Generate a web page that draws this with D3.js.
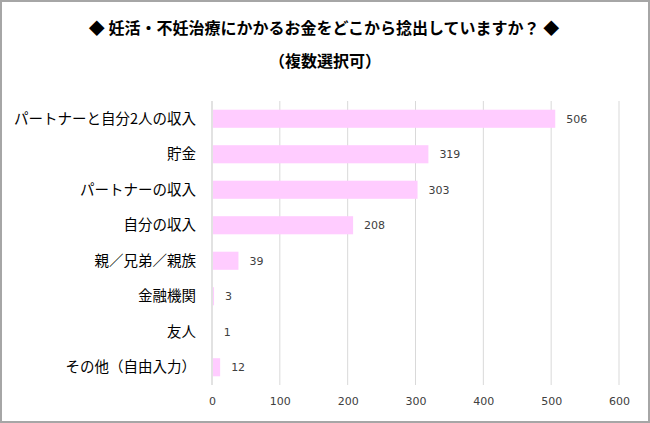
<!DOCTYPE html>
<html><head><meta charset="utf-8">
<script src="https://cdn.jsdelivr.net/npm/d3@7"></script>
<style>
html,body{margin:0;padding:0;background:#fff;}
svg{display:block;}
</style></head>
<body>
<svg id="c" width="650" height="423"></svg>
<script>
const categories = ["パートナーと自分2人の収入","貯金","パートナーの収入","自分の収入","親／兄弟／親族","金融機関","友人","その他（自由入力）"];
const values = [506,319,303,208,39,3,1,12];
const tickValues = [0,100,200,300,400,500,600];
const titleText = "◆ 妊活・不妊治療にかかるお金をどこから捻出していますか？ ◆";
const subtitleText = "（複数選択可）";

const svg = d3.select("#c");
const font = "'Noto Sans CJK JP', 'Noto Sans', sans-serif";
const W = 650, H = 423;
const m = {left: 212, right: 31, top: 101, bottom: 38};

svg.append("rect").attr("x",1).attr("y",1).attr("width",W-2).attr("height",H-2)
  .attr("fill","#fff").attr("stroke","#A6A6A6").attr("stroke-width",2);

svg.append("text").attr("x",324).attr("y",34).attr("text-anchor","middle")
  .attr("font-family",font).attr("font-weight","bold").attr("font-size",16)
  .attr("fill","#000").text(titleText);
svg.append("text").attr("x",325).attr("y",67).attr("text-anchor","middle")
  .attr("font-family",font).attr("font-weight","bold").attr("font-size",16)
  .attr("fill","#000").text(subtitleText);

const x = d3.scaleLinear().domain([0,600]).range([m.left, W - m.right]);
const y = d3.scaleBand().domain(categories).range([m.top, H - m.bottom]).paddingInner(0.49).paddingOuter(0.245);

// gridlines
svg.append("g").selectAll("line").data(tickValues.slice(1)).join("line")
  .attr("x1",d=>x(d)).attr("x2",d=>x(d)).attr("y1",m.top).attr("y2",H-m.bottom)
  .attr("stroke","#D9D9D9").attr("stroke-width",1);

// bars
svg.append("g").selectAll("rect").data(values).join("rect")
  .attr("x", x(0)+1).attr("y",(d,i)=>y(categories[i]))
  .attr("width", d=>Math.max(0, x(d)-x(0)-1)).attr("height", y.bandwidth())
  .attr("fill","#FFCCFF");

// vertical axis line
svg.append("line").attr("x1",x(0)).attr("x2",x(0)).attr("y1",m.top).attr("y2",H-m.bottom)
  .attr("stroke","#D9D9D9").attr("stroke-width",1.5);

// category labels
svg.append("g").selectAll("text").data(categories).join("text")
  .attr("x",196).attr("y",d=>y(d)+y.bandwidth()/2).attr("dy","0.35em")
  .attr("text-anchor","end").attr("font-family",font).attr("font-size",14.5)
  .attr("fill","#000").text(d=>d);

// value labels
svg.append("g").selectAll("text").data(values).join("text")
  .attr("x",d=>x(d)+11).attr("y",(d,i)=>y(categories[i])+y.bandwidth()/2).attr("dy","0.35em")
  .attr("font-family","'DejaVu Sans', Verdana, sans-serif").attr("font-size",11)
  .attr("fill","#404040").text(d=>d);

// x axis ticks
const ax = svg.append("g").attr("transform",`translate(0,${H-m.bottom})`)
  .call(d3.axisBottom(x).tickValues(tickValues).tickSize(0).tickPadding(12));
ax.select(".domain").remove();
ax.selectAll("text").attr("font-family","'DejaVu Sans', Verdana, sans-serif").attr("font-size",11).attr("fill","#404040");
</script>
</body></html>
